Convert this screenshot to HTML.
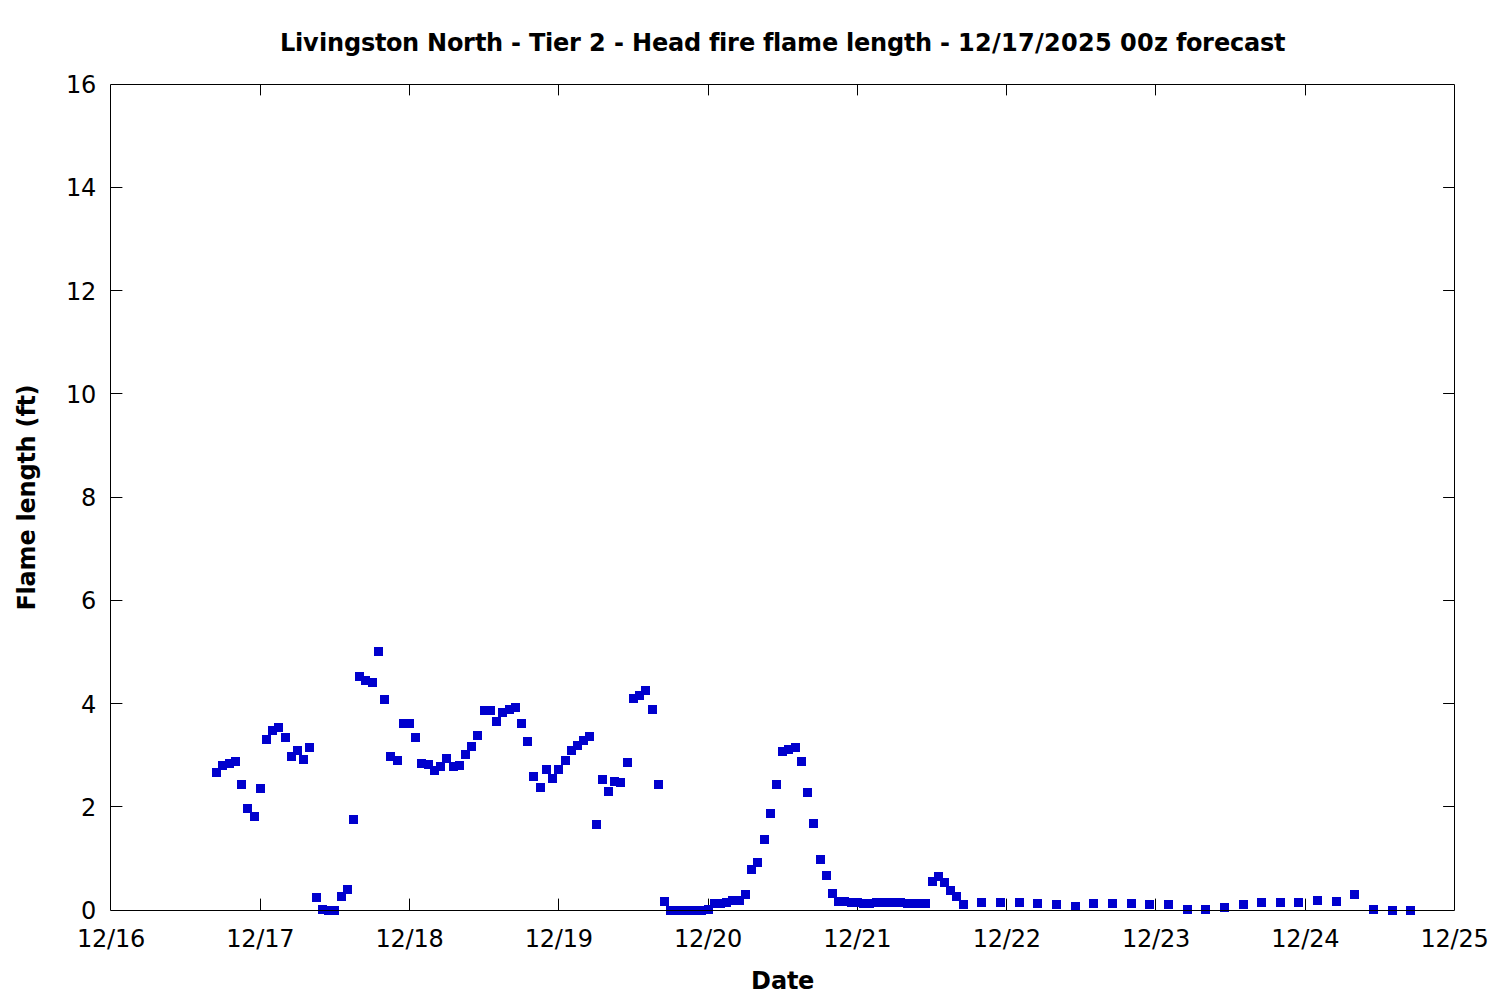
<!DOCTYPE html>
<html><head><meta charset="utf-8"><title>Livingston North - Tier 2 - Head fire flame length</title>
<style>
html,body{margin:0;padding:0;background:#fff;}
svg{display:block;}
text{font-family:"DejaVu Sans","Liberation Sans",sans-serif;fill:#000;}
.n{font-size:24px;}
.b{font-size:24px;font-weight:bold;}
</style></head>
<body>
<svg width="1500" height="1000" viewBox="0 0 1500 1000">
<rect width="1500" height="1000" fill="#fff"/>
<path d="M110.5 806.5H122M1454.5 806.5H1443.5M110.5 703.5H122M1454.5 703.5H1443.5M110.5 600.5H122M1454.5 600.5H1443.5M110.5 497.5H122M1454.5 497.5H1443.5M110.5 393.5H122M1454.5 393.5H1443.5M110.5 290.5H122M1454.5 290.5H1443.5M110.5 187.5H122M1454.5 187.5H1443.5M260.5 910.5V899M260.5 84.5V95M409.5 910.5V899M409.5 84.5V95M558.5 910.5V899M558.5 84.5V95M708.5 910.5V899M708.5 84.5V95M857.5 910.5V899M857.5 84.5V95M1006.5 910.5V899M1006.5 84.5V95M1155.5 910.5V899M1155.5 84.5V95M1305.5 910.5V899M1305.5 84.5V95" stroke="#000" stroke-width="1" stroke-linecap="round" fill="none"/>
<path d="M212 768h9v9h-9zM218 761h9v9h-9zM225 759h9v9h-9zM231 757h9v9h-9zM237 780h9v9h-9zM243 804h9v9h-9zM250 812h9v9h-9zM256 784h9v9h-9zM262 735h9v9h-9zM268 726h9v9h-9zM274 723h9v9h-9zM281 733h9v9h-9zM287 752h9v9h-9zM293 746h9v9h-9zM299 755h9v9h-9zM305 743h9v9h-9zM312 893h9v9h-9zM318 905h9v9h-9zM324 906h9v9h-9zM330 906h9v9h-9zM337 892h9v9h-9zM343 885h9v9h-9zM349 815h9v9h-9zM355 672h9v9h-9zM361 676h9v9h-9zM368 678h9v9h-9zM374 647h9v9h-9zM380 695h9v9h-9zM386 752h9v9h-9zM393 756h9v9h-9zM399 719h9v9h-9zM405 719h9v9h-9zM411 733h9v9h-9zM417 759h9v9h-9zM424 760h9v9h-9zM430 766h9v9h-9zM436 762h9v9h-9zM442 754h9v9h-9zM449 762h9v9h-9zM455 761h9v9h-9zM461 750h9v9h-9zM467 742h9v9h-9zM473 731h9v9h-9zM480 706h9v9h-9zM486 706h9v9h-9zM492 717h9v9h-9zM498 708h9v9h-9zM505 705h9v9h-9zM511 703h9v9h-9zM517 719h9v9h-9zM523 737h9v9h-9zM529 772h9v9h-9zM536 783h9v9h-9zM542 765h9v9h-9zM548 774h9v9h-9zM554 765h9v9h-9zM561 756h9v9h-9zM567 746h9v9h-9zM573 741h9v9h-9zM579 736h9v9h-9zM585 732h9v9h-9zM592 820h9v9h-9zM598 775h9v9h-9zM604 787h9v9h-9zM610 777h9v9h-9zM616 778h9v9h-9zM623 758h9v9h-9zM629 694h9v9h-9zM635 691h9v9h-9zM641 686h9v9h-9zM648 705h9v9h-9zM654 780h9v9h-9zM660 897h9v9h-9zM666 906h9v9h-9zM672 906h9v9h-9zM679 906h9v9h-9zM685 906h9v9h-9zM691 906h9v9h-9zM697 906h9v9h-9zM704 905h9v9h-9zM710 899h9v9h-9zM716 899h9v9h-9zM722 898h9v9h-9zM728 896h9v9h-9zM735 896h9v9h-9zM741 890h9v9h-9zM747 865h9v9h-9zM753 858h9v9h-9zM760 835h9v9h-9zM766 809h9v9h-9zM772 780h9v9h-9zM778 747h9v9h-9zM784 745h9v9h-9zM791 743h9v9h-9zM797 757h9v9h-9zM803 788h9v9h-9zM809 819h9v9h-9zM816 855h9v9h-9zM822 871h9v9h-9zM828 889h9v9h-9zM834 897h9v9h-9zM840 897h9v9h-9zM847 898h9v9h-9zM853 898h9v9h-9zM859 899h9v9h-9zM865 899h9v9h-9zM872 898h9v9h-9zM878 898h9v9h-9zM884 898h9v9h-9zM890 898h9v9h-9zM896 898h9v9h-9zM903 899h9v9h-9zM909 899h9v9h-9zM915 899h9v9h-9zM921 899h9v9h-9zM928 877h9v9h-9zM934 872h9v9h-9zM940 878h9v9h-9zM946 886h9v9h-9zM952 892h9v9h-9zM959 900h9v9h-9zM977 898h9v9h-9zM996 898h9v9h-9zM1015 898h9v9h-9zM1033 899h9v9h-9zM1052 900h9v9h-9zM1071 902h9v9h-9zM1089 899h9v9h-9zM1108 899h9v9h-9zM1127 899h9v9h-9zM1145 900h9v9h-9zM1164 900h9v9h-9zM1183 905h9v9h-9zM1201 905h9v9h-9zM1220 903h9v9h-9zM1239 900h9v9h-9zM1257 898h9v9h-9zM1276 898h9v9h-9zM1294 898h9v9h-9zM1313 896h9v9h-9zM1332 897h9v9h-9zM1350 890h9v9h-9zM1369 905h9v9h-9zM1388 906h9v9h-9zM1406 906h9v9h-9z" fill="#0000cd" shape-rendering="crispEdges"/>
<path d="M110.5 84.5H1454.5V910.5H110.5Z" stroke="#000" stroke-width="1" fill="none"/>
<g class="n">
<text x="81" y="919">0</text>
<text x="81" y="816">2</text>
<text x="81" y="713">4</text>
<text x="81" y="609">6</text>
<text x="81" y="506">8</text>
<text x="66 81" y="403">10</text>
<text x="66 81" y="300">12</text>
<text x="66 81" y="196">14</text>
<text x="66 81" y="93">16</text>
<text x="76.94 91.94 106.94 114.94 129.94" y="947">12/16</text>
<text x="226.23 241.23 256.23 264.23 279.23" y="947">12/17</text>
<text x="375.51 390.51 405.51 413.51 428.51" y="947">12/18</text>
<text x="524.8 539.8 554.8 562.8 577.8" y="947">12/19</text>
<text x="674.08 689.08 704.08 712.08 727.08" y="947">12/20</text>
<text x="823.37 838.37 853.37 861.37 876.37" y="947">12/21</text>
<text x="972.65 987.65 1002.65 1010.65 1025.65" y="947">12/22</text>
<text x="1121.93 1136.93 1151.93 1159.93 1174.93" y="947">12/23</text>
<text x="1271.22 1286.22 1301.22 1309.22 1324.22" y="947">12/24</text>
<text x="1420.51 1435.51 1450.51 1458.51 1473.51" y="947">12/25</text>
</g>
<g class="b">
<text x="280 295 303 319 327 344 361 375 386 402 419 427 447 463 475 486 503 511 521 529 545 553 569 581 589 606 614 624 632 652 668 684 701 709 719 727 739 755 763 773 781 797 822 838 846 854 870 887 904 915 932 940 950 958 975 992 1001 1018 1035 1044 1061 1078 1095 1112 1120 1137 1154 1168 1176 1186 1202 1214 1230 1244 1260 1274" y="51">Livingston North - Tier 2 - Head fire flame length - 12/17/2025 00z forecast</text>
<text x="751 771 787 798" y="989">Date</text>
<text x="-610.5 -594.5 -586.5 -570.5 -545.5 -529.5 -521.5 -513.5 -497.5 -480.5 -463.5 -452.5 -435.5 -427.5 -416.5 -406.5 -395.5" y="0" transform="translate(35 0) rotate(-90)">Flame length (ft)</text>
</g>
</svg>
</body></html>
